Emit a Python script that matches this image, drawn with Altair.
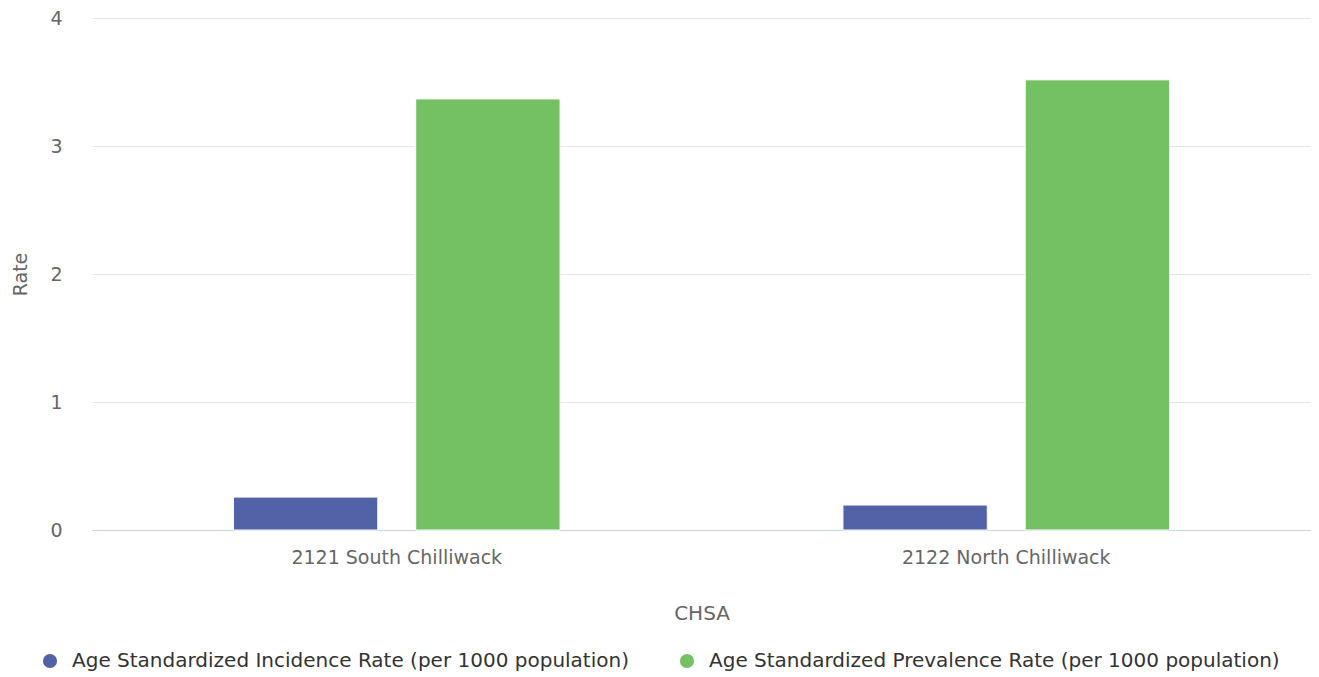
import altair as alt
import pandas as pd

categories = ["2121 South Chilliwack", "2122 North Chilliwack"]
series = ["Age Standardized Incidence Rate (per 1000 population)",
          "Age Standardized Prevalence Rate (per 1000 population)"]
incidence = [0.257, 0.195]
prevalence = [3.368, 3.517]
colors = ["#5262A6", "#74C164"]

rows = []
for i, c in enumerate(categories):
    rows.append({"CHSA": c, "Series": series[0], "Rate": incidence[i]})
    rows.append({"CHSA": c, "Series": series[1], "Rate": prevalence[i]})
df = pd.DataFrame(rows)

FONT = "DejaVu Sans"

chart = alt.Chart(df).mark_bar(stroke="white", strokeWidth=1).encode(
    x=alt.X("CHSA:N", sort=categories,
            scale=alt.Scale(paddingInner=0, paddingOuter=0),
            axis=alt.Axis(title="CHSA", labelAngle=0, labelFontSize=19, labelColor="#666666",
                          labelFont=FONT, titleFont=FONT, titleFontSize=20, titleColor="#666666",
                          titleFontWeight="normal", titlePadding=36, labelPadding=18,
                          labelLimit=0,
                          domainColor="#ccd6eb", domainWidth=1, ticks=False, grid=False)),
    xOffset=alt.XOffset("Series:N", sort=series,
                        scale=alt.Scale(paddingInner=0.208, paddingOuter=0.776)),
    y=alt.Y("Rate:Q", scale=alt.Scale(domain=[0, 4], nice=False),
            axis=alt.Axis(title="Rate", values=[0, 1, 2, 3, 4], format="d", labelFontSize=19,
                          labelColor="#666666", labelFont=FONT, titleFont=FONT, titleFontSize=19,
                          titleColor="#666666", titleFontWeight="normal", titlePadding=19,
                          labelPadding=30, domain=False, ticks=False, gridColor="#e6e6e6",
                          gridWidth=1)),
    color=alt.Color("Series:N", sort=series,
                    scale=alt.Scale(domain=series, range=colors),
                    legend=alt.Legend(title=None, orient="none", direction="horizontal",
                                      legendX=-52, legendY=633, symbolType="circle",
                                      symbolSize=200, symbolStrokeWidth=0, labelFont=FONT,
                                      labelFontSize=20, labelColor="#333333", labelLimit=0,
                                      columnPadding=48, labelOffset=12)),
).properties(
    width=1219, height=512,
    autosize=alt.AutoSizeParams(type="none"),
    padding={"left": 84, "top": 10, "right": 0, "bottom": 145},
).configure_view(stroke=None)

chart.save("out.html", embed_options={"renderer": "svg", "actions": False})
